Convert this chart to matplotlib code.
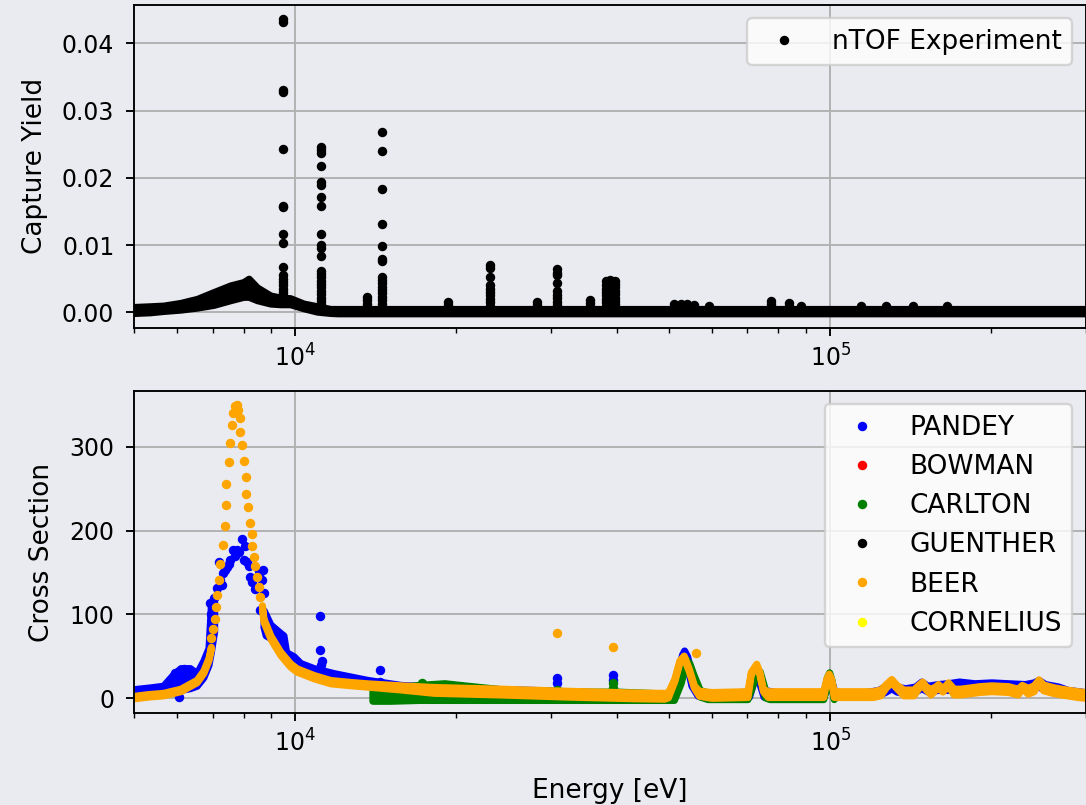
import numpy as np
import matplotlib
matplotlib.use("Agg")
import matplotlib.pyplot as plt

# ---------------- data ----------------
# nTOF capture yield: dense continuum envelope (energy [eV], lower / upper edge of the point cloud)
ntof_band_E = [5000, 5350, 5670, 6100, 6550, 7030, 7560, 8000, 8180, 8480, 8980, 9370,
               9780, 10360, 10980, 11630, 12000, 300000]
ntof_band_lo = [-0.0001, 0.0000, 0.0002, 0.0004, 0.0007, 0.0011, 0.0018, 0.0023, 0.0023, 0.0018,
                0.0013, 0.0012, 0.0012, 0.0006, 0.0001, -0.0001, -0.00015, -0.00015]
ntof_band_hi = [0.0008, 0.0009, 0.0010, 0.0014, 0.0020, 0.0030, 0.0040, 0.0045, 0.0050, 0.0037,
                0.0025, 0.0022, 0.0021, 0.0013, 0.0009, 0.0005, 0.0005, 0.0005]

# nTOF resolved resonance points: energy of each column and the yields in it
ntof_res_E = [9480, 11170, 13590, 14550, 19260, 23120, 28350, 30820, 35530, 38100, 38800, 39500,
              51000, 52500, 54000, 55500, 59400, 77500, 83700, 88300, 114000, 127000, 143000, 165000]
ntof_res_Y = [
    [0.0436, 0.0432, 0.0330, 0.0327, 0.0243, 0.0158, 0.0156, 0.0117, 0.0103, 0.0067, 0.0055,
     0.0050, 0.0045, 0.0040, 0.0035, 0.0030, 0.0025],
    [0.0246, 0.0241, 0.0237, 0.0218, 0.0193, 0.0190, 0.0172, 0.0158, 0.0117, 0.0100, 0.0096,
     0.0083, 0.0062, 0.0057, 0.0052, 0.0047, 0.0042, 0.0037, 0.0032, 0.0027, 0.0022, 0.0017, 0.0012],
    [0.0023, 0.0018, 0.0013, 0.0008],
    [0.0268, 0.0240, 0.0183, 0.0131, 0.0098, 0.0080, 0.0077, 0.0053, 0.0048, 0.0043, 0.0038,
     0.0033, 0.0028, 0.0023, 0.0018, 0.0013, 0.0008],
    [0.0016, 0.0011],
    [0.0071, 0.0066, 0.0053, 0.0040, 0.0035, 0.0030, 0.0025, 0.0020, 0.0015, 0.0010],
    [0.0016, 0.0011],
    [0.0064, 0.0059, 0.0055, 0.0044, 0.0031, 0.0026, 0.0021, 0.0016, 0.0011],
    [0.0019, 0.0014, 0.0009],
    [0.0046, 0.0040, 0.0035, 0.0030, 0.0025, 0.0020, 0.0015, 0.0010],
    [0.0048, 0.0044, 0.0039, 0.0034, 0.0029, 0.0024, 0.0019, 0.0014, 0.0009],
    [0.0047, 0.0042, 0.0037, 0.0032, 0.0027, 0.0022, 0.0017, 0.0012],
    [0.0012], [0.0013], [0.0012], [0.0011], [0.0010], [0.0017, 0.0012], [0.0014, 0.0009],
    [0.0009], [0.0009], [0.0010], [0.0009], [0.0009],
]

# PANDEY (blue) cross section: continuum envelope, low-energy part and high-energy part
pandey_lowE = [5000, 5350, 5660, 5900, 6100, 6350, 6540, 6730, 6880, 6950, 7050]
pandey_low_lo = [3, 5, 7, 10, 10, 12, 15, 25, 40, 55, 80]
pandey_low_hi = [11, 13, 15, 28, 36, 36, 30, 45, 60, 110, 115]
pandey_highE = [8720, 8800, 8980, 9370, 9500, 9610, 9930, 10220, 10820, 11800, 13620, 15730,
                20960, 27900, 37300, 43000, 48200, 50500, 51800, 52800, 53300, 54000, 55000,
                56500, 58000, 65000, 70500, 71800, 72600, 73500, 75000, 80000, 90000, 97000,
                98800, 99500, 100500, 102000, 110000, 118000, 123000, 127000, 130000, 133000,
                138000, 144000, 148000, 152000, 159000, 166000, 174000, 186000, 200000, 215000,
                231000, 240000, 245000, 252000, 267000, 278000, 295000, 300000]
pandey_high_lo = [85, 75, 72, 62, 60, 46, 38, 35, 28, 22, 16, 11, 7, 5, 3, 2, 0, 0, 15, 40, 48,
                  38, 15, 3, 2, 2, 2, 20, 30, 20, 2, 2, 2, 2, 15, 18, 10, 2, 2, 3, 4, 8, 12, 8,
                  6, 8, 12, 8, 10, 10, 12, 11, 12, 11, 10, 12, 14, 10, 8, 5, 3, 2]
pandey_high_hi = [105, 100, 88, 78, 75, 55, 50, 42, 36, 30, 22, 16, 12, 10, 7, 6, 3, 4, 28, 52,
                  57, 50, 28, 10, 7, 7, 8, 30, 38, 30, 10, 7, 7, 7, 25, 27, 20, 6, 6, 8, 10, 15,
                  22, 14, 12, 14, 20, 15, 17, 18, 20, 18, 19, 18, 17, 19, 22, 17, 14, 10, 8, 7]
# PANDEY scattered points
pandey_pts_E = [6910, 6960, 7000, 7060, 7130, 7184, 7237, 7300, 7320, 7380, 7450, 7500, 7560,
                7650, 7700, 7770, 7850, 7943, 8000, 8060, 8120, 8180, 8240, 8300, 8400, 8540,
                8600, 8660, 8690, 8720, 8600, 8780, 11140, 11140, 11200, 11150, 14380, 14380,
                30900, 30900, 39200, 39200, 6050, 5950, 6200]
pandey_pts_V = [114, 100, 95, 120, 131, 163, 141, 135, 149, 153, 157, 160, 165, 177, 170, 177,
                175, 190, 165, 181, 163, 158, 145, 139, 130, 152, 150, 141, 153, 125, 105, 85,
                98, 57.6, 44, 40, 33.7, 20, 23.8, 18, 27.8, 22, 2, 30, 35]

# CARLTON (green) envelope and points
carlton_E = [13930, 15000, 17000, 19000, 21000, 25000, 30000, 35000, 40000, 48000, 51000, 52500,
             53500, 54500, 55500, 57000, 59000, 62000, 70000, 71500, 72500, 73800, 75500, 77000,
             90000, 97000, 98500, 99500, 100500, 101500]
carlton_lo = [-3, -3, -2, -2, -2, -2, -2, -2, -2, -2, -2, 18, 38, 32, 18, 2, -1, -1, -1, 15, 28,
              25, 1, -1, -1, -1, 15, 25, 15, -1]
carlton_hi = [8, 12, 16, 18, 15, 10, 9, 8, 8, 6, 5, 28, 48, 42, 28, 10, 7, 6, 5, 25, 36, 32, 10,
              6, 6, 5, 25, 31, 22, 4]
carlton_pts_E = [17270, 39200, 39200, 30900]
carlton_pts_V = [18.6, 18.6, 12, 10]

# BEER (orange): continuum envelope (centre and half-spread), resolved peak points, isolated points
beer_lowE = [5000, 5300, 5660, 6100, 6540, 6730, 6880, 6950]
beer_low_c = [1.5, 3.5, 5, 10, 20.6, 31.7, 46.8, 60]
beer_low_s = [1.5, 1.5, 1.5, 1.5, 1.5, 1.5, 1.5, 1.5]
beer_highE = [8660, 8720, 8980, 9370, 9780, 10060, 10820, 11630, 12680, 13620, 15730, 18150,
              24200, 32200, 43000, 48900, 49700, 51100, 52200, 53200, 54400, 55600, 56800,
              60000, 70000, 71000, 72700, 73700, 74800, 76400, 97000, 98300, 99300, 100300,
              101500, 120000, 124000, 127000, 130000, 133000, 137000, 143000, 146000, 148500,
              151000, 154000, 157000, 159000, 162000, 166000, 170000, 175000, 190000, 200000,
              215000, 224000, 228000, 234000, 240000, 245000, 250000, 260000, 270000, 290000,
              300000]
beer_high_c = [109, 93, 73, 53.7, 39.7, 33.7, 25.8, 19.8, 17.5, 15.9, 13, 10, 8, 5.5, 3.5, 3, 4,
               22, 43.6, 49.5, 33.7, 13.8, 6, 4, 5, 30, 39.7, 30, 10, 5, 5, 22, 28, 22, 5, 5, 7,
               15, 21, 14, 7, 7, 14, 18, 12, 8, 12, 15, 10, 17, 8, 8, 11, 12, 11, 8, 14, 9, 12,
               20.6, 13, 10, 8, 5, 4]
beer_high_s = [2, 2, 2, 2, 2, 2, 2, 2, 2, 2, 2.5, 3.5, 3.5, 3.5, 3.5, 3.5, 3, 1.5, 1.5, 1.5, 1.5,
               1.5, 3, 3.5, 3.5, 1.5, 1.5, 1.5, 1.5, 3.5, 3.5, 1.5, 1.5, 1.5, 3.5, 3.5, 3.5, 2, 2,
               2, 3.5, 3.5, 2, 2, 2, 3.5, 2, 2, 2, 2, 3.5, 3.5, 3.5, 3.5, 3.5, 3.5, 2, 3.5, 3.5,
               2, 3.5, 3.5, 3.5, 3.5, 3.5]
beer_pts_E = [6950, 7013, 7062, 7113, 7135, 7184, 7237, 7321, 7374, 7427, 7427, 7501, 7557, 7614,
              7645, 7720, 7770, 7800, 7888, 7863, 7943, 8000, 8084, 8096, 8142, 8210, 8297, 8297,
              8380, 8415, 8477, 8536, 8600, 30900, 39170, 56100]
beer_pts_V = [71.5, 83, 95, 109, 123, 141, 160, 183, 205, 230, 256, 282, 304, 326, 340, 349, 350,
              344, 334, 318, 302, 283, 264, 244, 228, 209, 196, 181, 169, 158, 145, 133, 121,
              77.5, 60.8, 54.4]

legend_labels = ['PANDEY', 'BOWMAN', 'CARLTON', 'GUENTHER', 'BEER', 'CORNELIUS']
legend_colors = ['blue', 'red', 'green', 'black', 'orange', 'yellow']

# ---------------- figure ----------------
BG = '#eaebf0'
DPI = 170
LABEL_FS = 11.2
fig = plt.figure(figsize=(1086 / DPI, 805 / DPI), dpi=DPI, facecolor=BG)
ax1 = fig.add_axes([0.1237, 0.5929, 0.8759, 0.4009])
ax2 = fig.add_axes([0.1237, 0.1139, 0.8759, 0.4004])

BAND_LW = 3.0
DOT = dict(marker='.', linestyle='none', markersize=6)


def band(ax, E, lo, hi, color, z):
    ax.fill_between(E, lo, hi, facecolor=color, edgecolor=color, linewidth=BAND_LW,
                    joinstyle='round', zorder=z)


for ax in (ax1, ax2):
    ax.set_facecolor(BG)
    ax.set_xscale('log')
    ax.grid(True)
    ax.tick_params(axis='y', pad=5)

# --- top panel ---
band(ax1, ntof_band_E, ntof_band_lo, ntof_band_hi, 'black', 2)
res_E_flat = [e for e, ys in zip(ntof_res_E, ntof_res_Y) for _ in ys]
res_Y_flat = [y for ys in ntof_res_Y for y in ys]
ax1.plot(res_E_flat, res_Y_flat, color='black', label='nTOF Experiment', zorder=2, **DOT)
ax1.set_xlim(5000, 3e5)
ax1.set_ylim(-0.00229, 0.04569)
ax1.set_ylabel('Capture Yield', fontsize=LABEL_FS, labelpad=6)
ax1.legend(loc='upper right', fontsize=LABEL_FS)

# --- bottom panel ---
band(ax2, pandey_lowE, pandey_low_lo, pandey_low_hi, 'blue', 2.0)
band(ax2, pandey_highE, pandey_high_lo, pandey_high_hi, 'blue', 2.0)
h_pandey, = ax2.plot(pandey_pts_E, pandey_pts_V, color='blue', zorder=2.0, **DOT)
h_bowman, = ax2.plot([], [], color='red', **DOT)
band(ax2, carlton_E, carlton_lo, carlton_hi, 'green', 2.1)
h_carlton, = ax2.plot(carlton_pts_E, carlton_pts_V, color='green', zorder=2.1, **DOT)
h_guenther, = ax2.plot([], [], color='black', **DOT)
bl_c, bl_s = np.array(beer_low_c), np.array(beer_low_s)
bh_c, bh_s = np.array(beer_high_c), np.array(beer_high_s)
band(ax2, beer_lowE, bl_c - bl_s, bl_c + bl_s, 'orange', 2.2)
band(ax2, beer_highE, bh_c - bh_s, bh_c + bh_s, 'orange', 2.2)
h_beer, = ax2.plot(beer_pts_E, beer_pts_V, color='orange', zorder=2.2, **DOT)
h_cornelius, = ax2.plot([], [], color='yellow', **DOT)

ax2.set_xlim(5000, 3e5)
ax2.set_ylim(-17.9, 366.4)
ax2.set_ylabel('Cross Section', fontsize=LABEL_FS, labelpad=6)
ax2.set_xlabel('Energy [eV]', fontsize=LABEL_FS, labelpad=9)
ax2.legend([h_pandey, h_bowman, h_carlton, h_guenther, h_beer, h_cornelius], legend_labels,
           loc='upper right', fontsize=LABEL_FS)

fig.savefig('out.png', dpi=DPI, facecolor=BG)
